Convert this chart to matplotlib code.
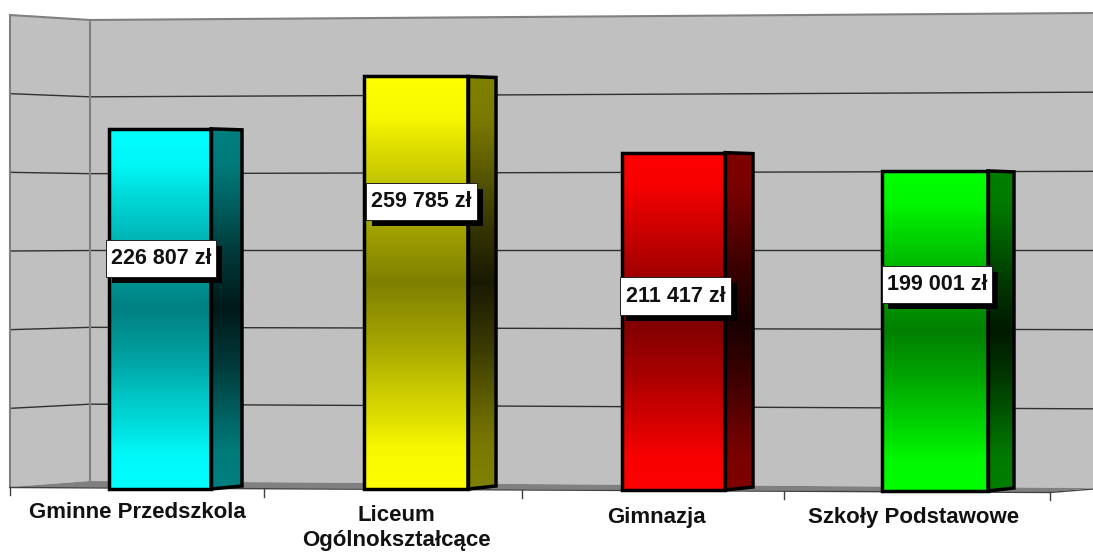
import numpy as np
import matplotlib
matplotlib.use("Agg")
import matplotlib.pyplot as plt
from matplotlib.colors import LinearSegmentedColormap
from matplotlib.patches import Polygon, Rectangle

# dane
kategorie = ["Gminne Przedszkola", "Liceum\nOgólnokształcące", "Gimnazja", "Szkoły Podstawowe"]
wartosci = [226807, 259785, 211417, 199001]
etykiety = ["226 807 zł", "259 785 zł", "211 417 zł", "199 001 zł"]
kolory = ["#00FFFF", "#FFFF00", "#FF0000", "#00FF00"]
siatka = [0, 50000, 100000, 150000, 200000, 250000, 300000]

# uklad w pikselach obrazka
W, H = 1093, 554
PX_NA_ZL = 474 / 300000
lewa = [109, 364, 622, 882]
prawa = [211, 468, 725, 988]
bok = [242, 496, 753, 1014]
dol = [489, 489, 490, 491]
skala = [1.005, 1.005, 1.01, 1.018]
box_x = [(106, 216), (366, 477), (620, 731), (882, 992)]
box_y = [(240, 277), (183, 220), (277, 315), (266, 303)]
etyk_x = [137, 396, 656, 914]
etyk_y = [512, 528, 517, 518]
ticki = [(10, 487), (264, 489), (522, 490), (784, 491), (1050, 492)]

# jasnosc gradientu: 0 = srodek slupka, 1 = gora/dol
stopnie_t = [0.0, 0.3, 0.5, 0.67, 0.8, 1.0]
stopnie_jasn = [0.5, 0.65, 0.78, 0.88, 0.97, 1.0]
stopnie_bok = [0.1, 0.22, 0.33, 0.42, 0.48, 0.5]


def xd(px):
    return (px - 175) / 258


def yd(py):
    return (489 - py) / PX_NA_ZL


def pts(lista):
    return [(xd(a), yd(b)) for a, b in lista]


def mapa(kol, jasn):
    return LinearSegmentedColormap.from_list("m", [(t, tuple(kol * j)) for t, j in zip(stopnie_t, jasn)])


fig = plt.figure(figsize=(W / 100, H / 100), dpi=100, facecolor="white")
ax = fig.add_axes([0, 0, 1, 1])

# sciany
ax.add_patch(Polygon(pts([(10, 15), (90, 20), (90, 481), (10, 487)]), fc="#C0C0C0", ec="none", zorder=1))
ax.add_patch(Polygon(pts([(90, 20), (1093, 13), (1093, 488), (90, 481)]), fc="#C0C0C0", ec="none", zorder=1))
ax.add_patch(Polygon(pts([(10, 487), (90, 481), (1093, 488), (1050, 492)]), fc="#808080", ec="none", zorder=2))

# linie siatki, lekko zbiegaja sie w perspektywie
for v in siatka:
    if v == 0:
        continue
    y10 = 487 - (487 - 15) * v / 300000
    y90 = 481 - (481 - 20) * v / 300000
    y1093 = 488 - (488 - 13) * v / 300000
    kolor = "#808080" if v == 300000 else "#303030"
    ax.plot([xd(10), xd(90), xd(1093)], [yd(y10), yd(y90), yd(y1093)], color=kolor,
            lw=1.5 if v == 300000 else 1.0, zorder=3)

ax.plot([xd(10), xd(10)], [yd(15), yd(487)], color="#808080", lw=1.5, zorder=3)
ax.plot([xd(90), xd(90)], [yd(20), yd(481)], color="#808080", lw=1.5, zorder=3)

# krawedz podlogi i znaczniki osi
ax.plot([xd(10), xd(1050), xd(1093)], [yd(487.5), yd(492.5), yd(489)], color="#404040", lw=1.0, zorder=3)
for tx, ty in ticki:
    ax.plot([xd(tx), xd(tx)], [yd(ty), yd(ty + 8)], color="#404040", lw=1.0, zorder=3)

gradient = np.abs(np.linspace(-1, 1, 256)).reshape(-1, 1)

for i, wart in enumerate(wartosci):
    kol = np.array(matplotlib.colors.to_rgb(kolory[i]))

    y_dol = yd(dol[i])
    y_gora = y_dol + wart * skala[i]
    py_gora = 489 - y_gora * PX_NA_ZL

    przod = [(xd(lewa[i]), y_dol), (xd(prawa[i]), y_dol), (xd(prawa[i]), y_gora), (xd(lewa[i]), y_gora)]
    bok_pts = [(xd(prawa[i]), y_dol), (xd(bok[i]), yd(dol[i] - 3)),
               (xd(bok[i]), yd(py_gora + 1)), (xd(prawa[i]), y_gora)]

    im = ax.imshow(gradient, cmap=mapa(kol, stopnie_jasn), aspect="auto", vmin=0, vmax=1, zorder=4,
                   extent=[xd(lewa[i]), xd(prawa[i]), y_dol, y_gora], origin="lower")
    im.set_clip_path(Polygon(przod, transform=ax.transData))
    im2 = ax.imshow(gradient, cmap=mapa(kol, stopnie_bok), aspect="auto", vmin=0, vmax=1, zorder=4,
                    extent=[xd(prawa[i]), xd(bok[i]), y_dol, y_gora], origin="lower")
    im2.set_clip_path(Polygon(bok_pts, transform=ax.transData))

    ax.add_patch(Polygon(przod, fc="none", ec="black", lw=2.5, joinstyle="miter", zorder=5))
    ax.add_patch(Polygon(bok_pts, fc="none", ec="black", lw=2.5, joinstyle="miter", zorder=5))

    # etykieta wartosci z cieniem
    x0, x1 = box_x[i]
    y0, y1 = box_y[i]
    ax.add_patch(Rectangle((xd(x0 + 6), yd(y1 + 6)), xd(x1) - xd(x0), yd(y0) - yd(y1), fc="black", ec="none", zorder=6))
    ax.add_patch(Rectangle((xd(x0), yd(y1)), xd(x1) - xd(x0), yd(y0) - yd(y1), fc="white", ec="#202020", lw=0.7, zorder=7))
    ax.text(xd((x0 + x1) / 2), yd((y0 + y1) / 2), etykiety[i], ha="center", va="center", zorder=8,
            fontsize=15.5, fontweight="bold", family="Liberation Sans", color="#111111")

    ax.text(xd(etyk_x[i]), yd(etyk_y[i]), kategorie[i], ha="center", va="center", linespacing=1.2,
            fontsize=16, fontweight="bold", family="Liberation Sans", color="#111111", zorder=8)

ax.set_xlim(xd(0), xd(W))
ax.set_ylim(yd(H), yd(0))
ax.axis("off")

fig.savefig("out.png", dpi=100)
